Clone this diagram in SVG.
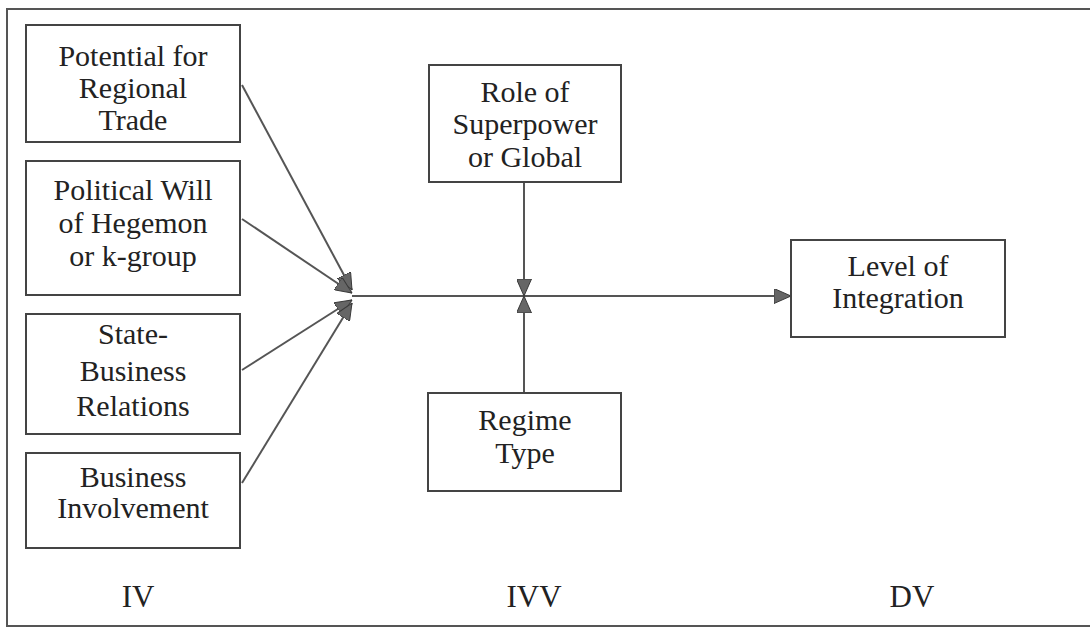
<svg xmlns="http://www.w3.org/2000/svg" width="1090" height="628" viewBox="0 0 1090 628">
<style>
.box{fill:#fff;stroke:#444;stroke-width:2}
.t{font-family:"Liberation Serif","Times New Roman",serif;font-size:30px;fill:#222;text-anchor:middle}
.lab{font-family:"Liberation Serif","Times New Roman",serif;font-size:31px;fill:#222;text-anchor:middle}
.c{stroke:#555;stroke-width:2;fill:none}
</style>
<defs>
<marker id="ah" viewBox="0 0 17 15" refX="17" refY="7.5" markerWidth="17" markerHeight="15" markerUnits="userSpaceOnUse" orient="auto">
<path d="M0,0 L17,7.5 L0,15 Z" fill="#666" stroke="#3a3a3a" stroke-width="1"/>
</marker>
</defs>
<rect width="1090" height="628" fill="#fff"/>
<path d="M1090,9 L7,9 L7,626 L1090,626" fill="none" stroke="#555" stroke-width="2"/>
<g id="connectors">
<line class="c" x1="242" y1="85" x2="352" y2="290" marker-end="url(#ah)"/>
<line class="c" x1="242" y1="219" x2="352" y2="293" marker-end="url(#ah)"/>
<line class="c" x1="242" y1="370" x2="352" y2="300" marker-end="url(#ah)"/>
<line class="c" x1="242" y1="483" x2="352" y2="303" marker-end="url(#ah)"/>
<line class="c" x1="352" y1="296" x2="791" y2="296" marker-end="url(#ah)"/>
<line class="c" x1="524" y1="182" x2="524" y2="296" marker-end="url(#ah)"/>
<line class="c" x1="524" y1="393" x2="524" y2="296" marker-end="url(#ah)"/>
</g>
<g id="potential">
<rect class="box" x="26" y="25" width="214" height="117"/>
<text class="t" x="133" y="66">Potential for</text>
<text class="t" x="133" y="98">Regional</text>
<text class="t" x="133" y="130">Trade</text>
</g>
<g id="political">
<rect class="box" x="26" y="161" width="214" height="134"/>
<text class="t" x="133" y="200">Political Will</text>
<text class="t" x="133" y="233">of Hegemon</text>
<text class="t" x="133" y="266">or k-group</text>
</g>
<g id="statebusiness">
<rect class="box" x="26" y="314" width="214" height="120"/>
<text class="t" x="133" y="344">State-</text>
<text class="t" x="133" y="381">Business</text>
<text class="t" x="133" y="416">Relations</text>
</g>
<g id="business">
<rect class="box" x="26" y="453" width="214" height="95"/>
<text class="t" x="133" y="487">Business</text>
<text class="t" x="133" y="518">Involvement</text>
</g>
<g id="role">
<rect class="box" x="429" y="65" width="192" height="117"/>
<text class="t" x="525" y="102">Role of</text>
<text class="t" x="525" y="134">Superpower</text>
<text class="t" x="525" y="167">or Global</text>
</g>
<g id="regime">
<rect class="box" x="428" y="393" width="193" height="98"/>
<text class="t" x="525" y="430">Regime</text>
<text class="t" x="525" y="463">Type</text>
</g>
<g id="level">
<rect class="box" x="791" y="240" width="214" height="97"/>
<text class="t" x="898" y="276">Level of</text>
<text class="t" x="898" y="308">Integration</text>
</g>
<g id="labels">
<text class="lab" x="138" y="607">IV</text>
<text class="lab" x="534" y="607">IVV</text>
<text class="lab" x="912" y="607">DV</text>
</g>
</svg>
